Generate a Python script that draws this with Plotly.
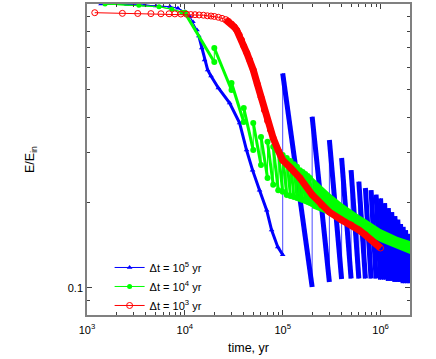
import plotly.graph_objects as go

# ---------------- data ----------------
# dt = 1e3 yr (red)
red_t = [1.2e3, 2.3e3, 3.3e3, 4.5e3, 5.7e3, 6.9e3, 7.9e3, 9.1e3, 1.04e4, 1.15e4, 1.27e4, 1.4e4,
         1.55e4, 1.7e4, 1.85e4, 2e4, 2.2e4, 2.4e4, 2.6e4, 2.8e4, 3e4, 3.2e4, 3.4e4, 3.6e4, 3.8e4,
         4e4, 4.3e4, 4.6e4, 5e4, 5.5e4, 6e4, 6.5e4, 7e4, 7.5e4, 8e4, 9e4, 1e5, 1.2e5, 1.5e5,
         2e5, 2.5e5, 3e5, 4e5, 5e5, 6e5, 7e5, 8e5, 9e5, 1e6]
red_E = [0.932, 0.927, 0.926, 0.925, 0.924, 0.924, 0.923, 0.922, 0.921, 0.918, 0.917, 0.915,
         0.913, 0.909, 0.907, 0.904, 0.898, 0.89, 0.882, 0.868, 0.85, 0.83, 0.807, 0.778, 0.747,
         0.711, 0.672, 0.635, 0.586, 0.523, 0.470, 0.423, 0.388, 0.36, 0.337, 0.305, 0.282, 0.265, 0.244,
         0.213, 0.196, 0.185, 0.1735, 0.1667, 0.160, 0.1537, 0.1476, 0.1429, 0.1383]

# dt = 1e5 yr (blue): smooth part before the first step
blue_t = [1.39e3, 2.56e3, 3.9e3, 5.06e3, 7.03e3, 8.5e3, 1e4, 1.13e4, 1.21e4, 1.33e4, 1.39e4,
          1.49e4, 1.59e4, 1.71e4, 1.85e4, 2.2e4, 2.87e4, 3.63e4, 4.27e4, 4.92e4, 5.8e4, 6.86e4,
          7.7e4, 8.9e4, 1e5]
blue_E = [1.0, 0.996, 0.992, 0.984, 0.979, 0.966, 0.939, 0.902, 0.866, 0.810, 0.771,
          0.70, 0.635, 0.586, 0.558, 0.506, 0.448, 0.381, 0.306, 0.260, 0.221, 0.188,
          0.160, 0.1395, 0.131]
# blue saw-teeth: start time, value just after the step, value at the end of the tooth
blue_tooth_t = [1e5, 2e5, 3e5, 4e5, 5e5, 6e5, 7e5, 8e5, 9e5, 1e6, 1.1e6, 1.2e6, 1.3e6, 1.4e6,
                1.5e6, 1.6e6, 1.7e6, 1.8e6, 1.9e6]
blue_peak = [0.570, 0.401, 0.332, 0.287, 0.260, 0.237, 0.225, 0.221, 0.213, 0.207, 0.199, 0.191,
             0.185, 0.179, 0.174, 0.168, 0.164, 0.160, 0.155]
blue_bottom = [0.1008, 0.105, 0.1075, 0.108, 0.108, 0.108, 0.108, 0.108, 0.107, 0.107, 0.106,
               0.106, 0.105, 0.105, 0.105, 0.104, 0.104, 0.104, 0.104]
blue_end = 2e6

# dt = 1e4 yr (green)
green_t = [1.53e3, 3.39e3, 5.44e3, 7.37e3, 9.3e3, 1e4]
green_E = [1.0, 0.989, 0.978, 0.958, 0.935, 0.93]
green_tooth_t = [1e4, 2e4, 3e4, 4e4, 5e4, 6e4, 7e4, 8e4, 9e4, 1e5, 1.1e5, 1.2e5, 1.3e5, 1.4e5,
                 1.5e5, 1.6e5, 1.7e5, 1.8e5, 1.9e5]
green_peak = [0.932, 0.700, 0.527, 0.430, 0.381, 0.340, 0.327, 0.314, 0.306, 0.294, 0.287, 0.280,
              0.273, 0.267, 0.260, 0.256, 0.252, 0.248, 0.244]
green_bottom = [0.625, 0.498, 0.384, 0.306, 0.271, 0.244, 0.231, 0.221, 0.218, 0.2126, 0.211, 0.209,
                0.2074, 0.2058, 0.204, 0.2024, 0.2008, 0.199, 0.1976]
green_end = 2e5
# dense band of green teeth after 2e5 yr (upper / lower edge)
green_band_t = [2e5, 3e5, 4e5, 5e5, 6e5, 7e5, 8e5, 1e6, 1.5e6, 2e6]
green_band_hi = [0.246, 0.216, 0.199, 0.188, 0.1807, 0.175, 0.1694, 0.1613, 0.1512, 0.1464]
green_band_lo = [0.191, 0.1807, 0.1708, 0.1627, 0.1575, 0.1537, 0.1512, 0.1452, 0.1372, 0.1318]

x_ticks = [1e3, 1e4, 1e5, 1e6]
x_ticktext = ["10<sup>3</sup>", "10<sup>4</sup>", "10<sup>5</sup>", "10<sup>6</sup>"]
y_ticks = [0.1, 1]
y_ticktext = ["0.1", "1"]

BLUE = "#0000ff"
GREEN = "#00ff00"
RED = "#ff0000"
FONT = "Liberation Sans, Arial, sans-serif"


def teeth(tt, peak, bottom, t_end):
    ends = tt[1:] + [t_end]
    thin_x, thin_y, thick_x, thick_y = [], [], [], []
    for t0, t1, p, b in zip(tt, ends, peak, bottom):
        thin_x += [t0, t1]
        thin_y += [p, b]
        thick_x += [t0, t1, None]
        thick_y += [p, b, None]
    return thin_x, thin_y, thick_x, thick_y


fig = go.Figure()

# ---- blue ----
bx, by, bX, bY = teeth(blue_tooth_t, blue_peak, blue_bottom, blue_end)
fig.add_trace(go.Scatter(x=blue_t[10:], y=blue_E[10:], mode="lines", line=dict(color=BLUE, width=3),
                         showlegend=False, hoverinfo="skip"))
fig.add_trace(go.Scatter(x=blue_t + bx, y=blue_E + by, mode="lines", line=dict(color=BLUE, width=1),
                         opacity=0.7, showlegend=False, hoverinfo="skip"))
fig.add_trace(go.Scatter(x=bX, y=bY, mode="lines", line=dict(color=BLUE, width=5),
                         showlegend=False, hoverinfo="skip"))
fig.add_trace(go.Scatter(x=blue_t, y=blue_E, mode="lines+markers", name="Δt = 10<sup>5</sup> yr",
                         line=dict(color=BLUE, width=1),
                         marker=dict(symbol="triangle-up", size=5, color=BLUE)))

# ---- green ----
gx, gy, gX, gY = teeth(green_tooth_t, green_peak, green_bottom, green_end)
fig.add_trace(go.Scatter(x=green_band_t + green_band_t[::-1], y=green_band_hi + green_band_lo[::-1],
                         fill="toself", fillcolor=GREEN, mode="lines", line=dict(width=0, color=GREEN),
                         showlegend=False, hoverinfo="skip"))
fig.add_trace(go.Scatter(x=green_t + gx, y=green_E + gy, mode="lines", line=dict(color=GREEN, width=1),
                         showlegend=False, hoverinfo="skip"))
fig.add_trace(go.Scatter(x=gX, y=gY, mode="lines+markers", line=dict(color=GREEN, width=3),
                         marker=dict(symbol="circle", size=6, color=GREEN),
                         showlegend=False, hoverinfo="skip"))
fig.add_trace(go.Scatter(x=green_t, y=green_E, mode="lines+markers", name="Δt = 10<sup>4</sup> yr",
                         line=dict(color=GREEN, width=1),
                         marker=dict(symbol="circle", size=5, color=GREEN)))

# ---- red ----
fig.add_trace(go.Scatter(x=red_t[18:], y=red_E[18:], mode="lines", line=dict(color=RED, width=7),
                         showlegend=False, hoverinfo="skip"))
fig.add_trace(go.Scatter(x=red_t, y=red_E, mode="lines+markers", name="Δt = 10<sup>3</sup> yr",
                         line=dict(color=RED, width=1),
                         marker=dict(symbol="circle-open", size=6, color=RED, line=dict(width=1))))

axis_common = dict(type="log", showgrid=False, zeroline=False, showline=True, mirror="ticks",
                   linecolor="#808080", linewidth=1.5, ticks="inside", ticklen=5, tickcolor="#404040",
                   automargin=False,
                   tickfont=dict(family=FONT, size=11, color="black"))

fig.update_xaxes(range=[3, 6.30103], tickvals=x_ticks, ticktext=x_ticktext, ticklabelstandoff=4,
                 minor=dict(tickvals=[2e3, 3e3, 4e3, 5e3, 6e3, 7e3, 8e3, 9e3,
                                      2e4, 3e4, 4e4, 5e4, 6e4, 7e4, 8e4, 9e4,
                                      2e5, 3e5, 4e5, 5e5, 6e5, 7e5, 8e5, 9e5, 2e6],
                            ticks="inside", ticklen=3, tickcolor="#404040"),
                 title=dict(text="time, yr", standoff=8, font=dict(family=FONT, size=12.5, color="black")),
                 **axis_common)
fig.update_yaxes(range=[-1.0951, 0], tickvals=y_ticks, ticktext=y_ticktext,
                 minor=dict(tickvals=[0.09, 0.2, 0.3, 0.4, 0.5, 0.6, 0.7, 0.8, 0.9],
                            ticks="inside", ticklen=3, tickcolor="#404040"),
                 title=dict(text="E/E<sub>in</sub>", standoff=30, font=dict(family=FONT, size=12.5, color="black")),
                 **axis_common)

fig.update_layout(width=436, height=359, margin=dict(l=87, r=26, t=4, b=44),
                  plot_bgcolor="white", paper_bgcolor="white",
                  font=dict(family=FONT, size=11, color="black"),
                  legend=dict(x=0.07, y=-0.016, xanchor="left", yanchor="bottom", bgcolor="rgba(0,0,0,0)",
                              font=dict(size=11), tracegroupgap=0, itemwidth=30),
                  showlegend=True)

fig.write_html("out.html", config={"displayModeBar": False},
               post_script="document.body.style.margin='0px';document.body.style.padding='0px';")
